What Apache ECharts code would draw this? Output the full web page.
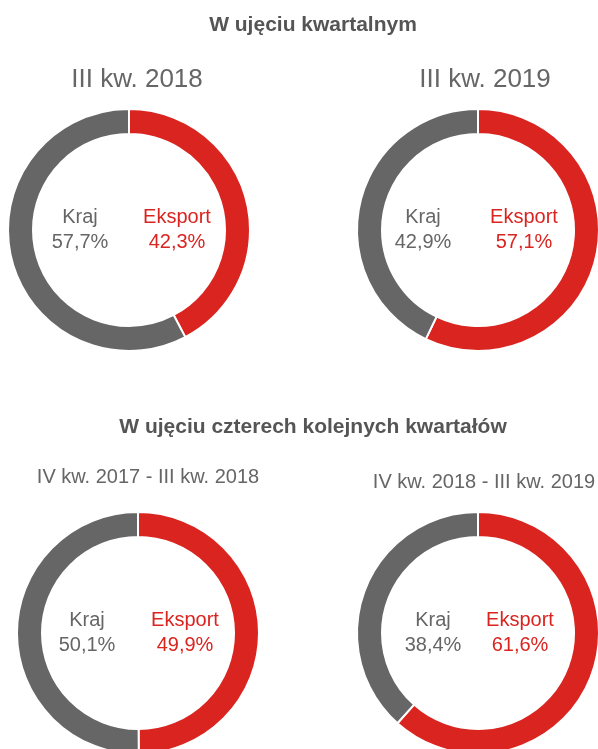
<!DOCTYPE html>
<html>
<head>
<meta charset="utf-8">
<script src="https://cdn.jsdelivr.net/npm/echarts@6/dist/echarts.min.js"></script>
<style>
  html, body { margin: 0; padding: 0; background: #fff; }
  #chart { width: 598px; height: 749px; }
</style>
</head>
<body>
<div id="chart"></div>
<script>
// data
const sectionTitles = ["W ujęciu kwartalnym", "W ujęciu czterech kolejnych kwartałów"];
const periods = ["III kw. 2018", "III kw. 2019", "IV kw. 2017 - III kw. 2018", "IV kw. 2018 - III kw. 2019"];
const categories = ["Eksport", "Kraj"];
const eksport = [42.3, 57.1, 49.9, 61.6];
const kraj = [57.7, 42.9, 50.1, 38.4];

// layout (pixels)
const centers = [[129, 230], [478, 230], [138, 633], [478, 633]];
const periodPos = [[137, 80, 26], [485, 80, 26], [148, 477, 20], [484, 482, 20]];
const labelDx = [[-49, 48], [-55, 46], [-51, 47], [-45, 42]];
const RED = "#da2420";
const GREY = "#666666";

const fmt = v => v.toFixed(1).replace(".", ",") + "%";

var myChart = echarts.init(document.getElementById("chart"));

const graphics = [];
sectionTitles.forEach((t, i) => {
  graphics.push({
    type: "text",
    style: {
      text: t, x: 313, y: i === 0 ? 25 : 427,
      textAlign: "center", textVerticalAlign: "middle",
      fill: "#555555", font: "bold 21px 'Liberation Sans', Arial, sans-serif"
    }
  });
});
periods.forEach((p, i) => {
  graphics.push({
    type: "text",
    style: {
      text: p, x: periodPos[i][0], y: periodPos[i][1],
      textAlign: "center", textVerticalAlign: "middle",
      fill: GREY, font: periodPos[i][2] + "px 'Liberation Sans', Arial, sans-serif"
    }
  });
});
centers.forEach((c, i) => {
  const items = [
    { dx: labelDx[i][0], name: categories[1], val: kraj[i], color: GREY },
    { dx: labelDx[i][1], name: categories[0], val: eksport[i], color: RED }
  ];
  items.forEach(it => {
    graphics.push({
      type: "text",
      style: {
        text: it.name + "\n" + fmt(it.val), x: c[0] + it.dx, y: c[1],
        textAlign: "center", textVerticalAlign: "middle",
        fill: it.color, lineHeight: 25,
        font: "20px 'Liberation Sans', Arial, sans-serif"
      }
    });
  });
});

myChart.setOption({
  animation: false,
  graphic: graphics,
  series: centers.map((c, i) => ({
    type: "pie",
    center: c,
    radius: [96, 121],
    startAngle: 90,
    clockwise: true,
    label: { show: false },
    labelLine: { show: false },
    emphasis: { disabled: true },
    itemStyle: { borderColor: "#fff", borderWidth: 2 },
    data: [
      { name: categories[0], value: eksport[i], itemStyle: { color: RED } },
      { name: categories[1], value: kraj[i], itemStyle: { color: GREY } }
    ]
  }))
});
</script>
</body>
</html>
